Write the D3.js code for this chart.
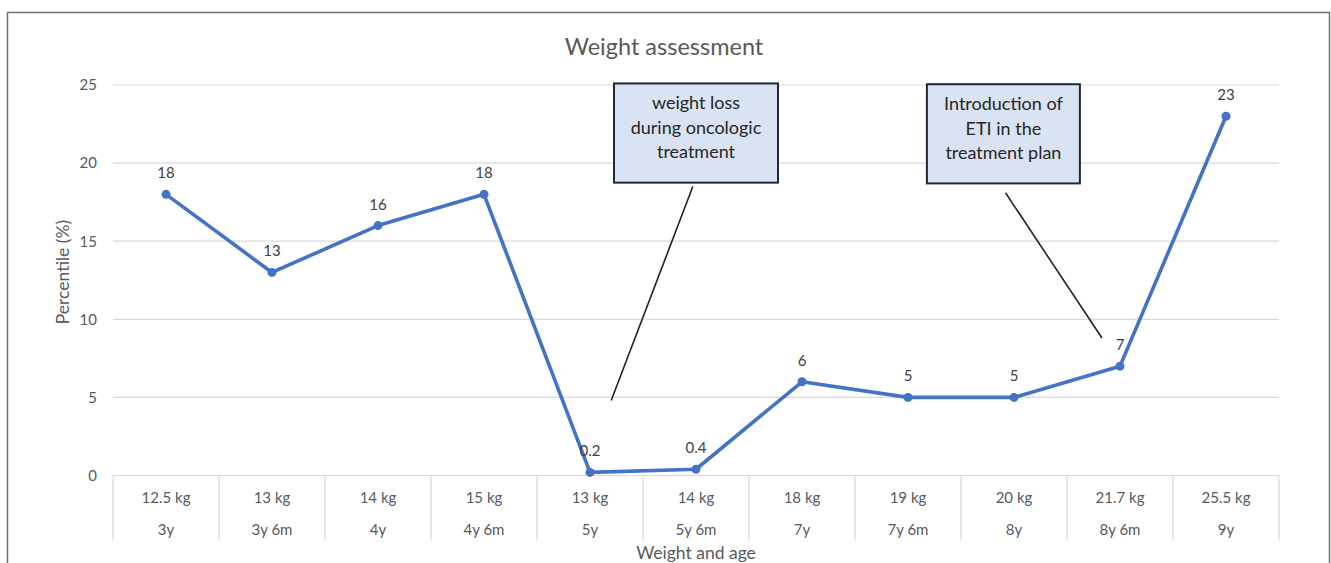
<!DOCTYPE html>
<html>
<head>
<meta charset="utf-8">
<script src="https://cdn.jsdelivr.net/npm/d3@7"></script>
<style>
  html, body { margin: 0; padding: 0; background: #fff; }
  svg { display: block; font-family: Lato, "Open Sans", sans-serif; }
</style>
</head>
<body>
<svg id="chart" width="1331" height="563"></svg>
<script>
// Weight in kg and age at each visit (two-level category axis)
const weights = ["12.5 kg", "13 kg", "14 kg", "15 kg", "13 kg", "14 kg", "18 kg", "19 kg", "20 kg", "21.7 kg", "25.5 kg"];
const ages = ["3y", "3y 6m", "4y", "4y 6m", "5y", "5y 6m", "7y", "7y 6m", "8y", "8y 6m", "9y"];
// Weight percentile at each visit
const percentiles = [18, 13, 16, 18, 0.2, 0.4, 6, 5, 5, 7, 23];
const yTicks = [0, 5, 10, 15, 20, 25];

// Callouts: box centre (category position) and range (value units), leader line ends
const callouts = [
  { lines: ["weight loss", "during oncologic", "treatment"], cx: 5.0, w: 164, top: 25.1, bottom: 18.75,
    from: [4.97, 18.5], to: [4.2, 4.8] },
  { lines: ["Introduction of", "ETI in the", "treatment plan"], cx: 7.9, w: 153, top: 25.05, bottom: 18.7,
    from: [7.92, 18.1], to: [8.83, 8.8] }
];

const svg = d3.select("#chart");
const plot = { left: 113, right: 1279, top: 85, bottom: 475.5 };
const labelFont = 15;
const axisTitleFont = 17.5;

// Outer chart frame
svg.append("rect")
  .attr("x", 7.5).attr("y", 12.5).attr("width", 1322).attr("height", 570)
  .attr("fill", "#fff").attr("stroke", "#707070").attr("stroke-width", 1.5);

const idx = d3.range(weights.length);
const xBand = d3.scaleBand().domain(idx).range([plot.left, plot.right]).padding(0);
const xPos = i => plot.left + xBand.bandwidth() * (i + 0.5);
const y = d3.scaleLinear().domain([0, 25]).range([plot.bottom, plot.top]);

// Title
svg.append("text")
  .attr("x", 664).attr("y", 55).attr("text-anchor", "middle")
  .attr("font-size", 23.5).attr("fill", "#595959")
  .text("Weight assessment");

// Horizontal gridlines
svg.append("g").selectAll("line").data(yTicks).join("line")
  .attr("x1", plot.left).attr("x2", plot.right)
  .attr("y1", d => y(d)).attr("y2", d => y(d))
  .attr("stroke", "#d9d9d9").attr("stroke-width", 1.2);

// Y axis tick labels
const yAxis = d3.axisLeft(y).tickValues(yTicks).tickSize(0).tickPadding(16);
svg.append("g").attr("transform", `translate(${plot.left},0)`).call(yAxis)
  .call(g => g.select(".domain").remove())
  .call(g => g.selectAll("text").attr("font-size", labelFont).attr("fill", "#595959")
    .attr("font-family", "Lato, sans-serif"));

// Y axis title
svg.append("text")
  .attr("transform", `translate(69,272) rotate(-90)`)
  .attr("text-anchor", "middle").attr("font-size", axisTitleFont).attr("fill", "#595959")
  .text("Percentile (%)");

// Category table: vertical separators
const sepX = idx.map(i => xBand(i)).concat([plot.right]);
svg.append("g").selectAll("line").data(sepX).join("line")
  .attr("x1", d => d).attr("x2", d => d)
  .attr("y1", plot.bottom).attr("y2", 540)
  .attr("stroke", "#d9d9d9").attr("stroke-width", 1.2);

// Category labels: weight (upper) and age (lower)
const cat = svg.append("g").attr("font-size", labelFont).attr("fill", "#595959").attr("text-anchor", "middle");
cat.selectAll("text.w").data(idx).join("text").attr("class", "w")
  .attr("x", i => xPos(i)).attr("y", 502.5).text(i => weights[i]);
cat.selectAll("text.a").data(idx).join("text").attr("class", "a")
  .attr("x", i => xPos(i)).attr("y", 534.5).text(i => ages[i]);

// X axis title
svg.append("text")
  .attr("x", (plot.left + plot.right) / 2).attr("y", 558.5).attr("text-anchor", "middle")
  .attr("font-size", axisTitleFont).attr("fill", "#595959")
  .text("Weight and age");

// Data line and markers
const line = d3.line().x((d, i) => xPos(i)).y(d => y(d));
svg.append("path").datum(percentiles)
  .attr("d", line).attr("fill", "none")
  .attr("stroke", "#4472c4").attr("stroke-width", 3.6).attr("stroke-linejoin", "round");
svg.append("g").selectAll("circle").data(percentiles).join("circle")
  .attr("cx", (d, i) => xPos(i)).attr("cy", d => y(d)).attr("r", 4.5)
  .attr("fill", "#4472c4");

// Data labels
svg.append("g").selectAll("text").data(percentiles).join("text")
  .attr("x", (d, i) => xPos(i)).attr("y", d => y(d) - 16)
  .attr("text-anchor", "middle").attr("font-size", labelFont).attr("fill", "#404040")
  .text(d => d);

// Callouts with leader lines
const fx = v => xPos(v);
callouts.forEach(c => {
  svg.append("line")
    .attr("x1", fx(c.from[0])).attr("y1", y(c.from[1]))
    .attr("x2", fx(c.to[0])).attr("y2", y(c.to[1]))
    .attr("stroke", "#1a2233").attr("stroke-width", 1.6);
  const x0 = fx(c.cx) - c.w / 2;
  svg.append("rect")
    .attr("x", x0).attr("y", y(c.top))
    .attr("width", c.w).attr("height", y(c.bottom) - y(c.top))
    .attr("fill", "#dae3f3").attr("stroke", "#1f2838").attr("stroke-width", 2);
  const t = svg.append("text").attr("text-anchor", "middle")
    .attr("font-size", 18).attr("fill", "#262626");
  c.lines.forEach((s, k) => {
    t.append("tspan").attr("x", fx(c.cx)).attr("y", y(c.top) + 26 + k * 24.5).text(s);
  });
});
</script>
</body>
</html>
